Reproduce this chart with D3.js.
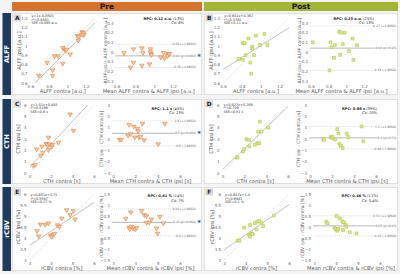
<!DOCTYPE html>
<html><head><meta charset="utf-8">
<script src="https://cdn.jsdelivr.net/npm/d3@7"></script>
<style>body{margin:0;background:#f4f4f4;} svg{display:block;font-family:"DejaVu Sans",sans-serif;}</style>
</head><body><svg id="c" width="400" height="274"></svg>
<script>
// ---------- DATA ----------
const columns = ["Pre", "Post"];
const rowNames = ["ALFF", "CTH", "rCBV"];
const panelLetters = ["A", "B", "C", "D", "E", "F"];

// A: ALFF pre
const alffPreContra = [0.69,0.78,0.84,0.84,0.86,0.90,0.95,0.95,0.97,0.98,0.99,1.03,1.11,1.12,1.12,1.16,1.17,1.18,1.16];
const alffPreIpsi   = [0.68,0.82,0.74,0.68,0.89,0.89,0.81,0.98,0.96,0.95,0.96,0.91,1.11,1.10,1.06,1.15,1.14,1.12,1.12];
const alffPreMean   = [0.68,0.78,0.78,0.75,0.87,0.88,0.87,0.96,0.96,0.97,0.97,0.95,1.07,1.10,1.11,1.15,1.15,1.14,1.16];
const alffPreDiff   = [-0.01,0.03,-0.11,-0.16,0.04,-0.01,-0.14,0.03,0.00,-0.02,-0.03,-0.125,-0.055,-0.007,-0.065,-0.02,-0.03,-0.04,-0.02];
// B: ALFF post
const alffPostContra = [0.77,0.81,0.81,0.83,0.84,0.87,0.89,0.90,0.91,0.91,0.93,0.95,0.99,1.04,1.07];
const alffPostIpsi   = [0.86,0.85,1.03,1.03,0.90,1.08,0.82,0.70,0.99,0.97,0.90,1.11,1.01,1.13,1.01];
const alffPostMean   = [0.62,0.82,0.83,0.87,0.86,0.81,0.92,0.94,0.98,0.96,0.93,1.07,1.03,1.08,1.12];
const alffPostDiff   = [0.10,0.10,0.05,0.07,-0.06,-0.19,0.21,0.20,0.20,0.08,-0.03,0.14,0.01,-0.08,0.07];
// C: CTH pre
const cthPreContra = [0.37,0.53,0.68,1.05,1.15,1.24,1.55,1.67,1.76,1.76,1.86,2.07,2.14,2.69,3.78,4.09];
const cthPreIpsi   = [0.64,0.73,2.10,1.55,2.34,1.81,2.57,2.49,3.13,2.05,2.54,2.34,2.49,2.69,5.18,3.74];
const cthPreMean   = [0.60,0.75,1.44,1.35,1.59,1.86,1.95,2.19,2.25,2.34,2.46,2.64,2.79,4.05,4.65];
const cthPreDiff   = [-0.06,-0.06,1.26,0.30,0.45,1.11,0.15,0.90,0.69,0.15,0.21,1.35,-0.09,-0.45,1.35];
// D: CTH post
const cthPostContra = [1.28,1.37,1.89,1.98,2.20,2.44,2.44,2.96,3.26,3.20,3.35,3.41,3.57,4.18];
const cthPostIpsi   = [1.37,1.37,1.90,2.10,2.98,2.92,2.34,2.49,3.65,2.63,2.63,4.53,3.65,4.00];
const cthPostMean   = [1.21,1.27,1.88,1.97,2.06,2.27,2.48,2.58,2.67,2.82,2.97,3.33,3.48,4.70,4.85];
const cthPostDiff   = [0.00,-0.10,0.17,0.10,0.20,-0.05,0.87,0.50,-0.44,-0.60,-0.81,0.47,0.17,1.11,-0.20];
// E: rCBV pre
const rcbvPreContra = [3.35,3.42,3.50,3.73,3.88,3.98,4.04,4.11,4.16,4.30,4.39,4.50,4.73,4.89,5.04,5.12];
const rcbvPreIpsi   = [4.32,4.08,4.62,4.60,4.67,4.12,4.06,4.15,4.20,4.59,4.52,4.89,5.27,5.05,5.23,4.85];
const rcbvPreMean   = [3.57,3.80,3.72,3.75,3.82,3.90,4.00,4.05,4.27,4.40,4.50,4.50,4.62,4.72,4.95,5.00,5.10,5.25];
const rcbvPreDiff   = [0.38,0.67,-0.02,-0.10,0.02,-0.06,-0.10,-0.03,0.74,0.55,0.50,0.20,0.20,0.35,-0.06,-0.29,0.47,0.17];
// F: rCBV post
const rcbvPostContra = [3.63,3.70,3.93,4.16,4.20,4.27,4.32,4.20,4.42,4.50,4.53,4.62,4.73,4.81,5.30];
const rcbvPostIpsi   = [3.88,3.88,4.47,4.14,4.06,4.21,4.17,4.59,4.67,4.39,4.74,4.77,4.70,4.55,5.02];
const rcbvPostMean   = [3.56,3.61,4.02,3.94,3.99,4.05,4.10,4.17,4.29,4.35,4.43,4.48,4.32,4.63,4.93];
const rcbvPostDiff   = [0.24,0.17,0.50,-0.03,-0.10,-0.17,-0.09,0.39,0.24,0.21,0.09,0.02,-0.14,-0.24,-0.29];

// regression fits (slope, intercept) as printed in the panels
const fitSlope = [1, 0.641, 1.02, 0.927, 0.651, 0.687];
const fitIntercept = [-0.0503, 0.362, 0.483, 0.299, 1.71, 1.4];
const fitText = [
  ["y=1x-0.0503","r²=0.8581","SEE=0.065 a.u."],
  ["y=0.641x+0.362","r²=0.3762","SEE=0.11 a.u."],
  ["y=1.02x+0.483","r²=0.8169","SEE=0.6 s"],
  ["y=0.927x+0.299","r²=0.709","SEE=0.51 s"],
  ["y=0.651x+1.71","r²=0.5587","SEE=0.27 %"],
  ["y=0.687x+1.4","r²=0.6941","SEE=0.2 %"]
];
// Bland-Altman lines: mean bias, upper, lower
const baBias  = [-0.04, 0.04, 0.5, 0.1, 0.21, 0.05];
const baUpper = [0.08, 0.27, 1.6, 1.1, 0.82, 0.51];
const baLower = [-0.16, -0.19, -0.6, -0.88, -0.4, -0.41];
const baBiasLabel  = ["-0.04 (p=0.002)","0.04 (p=0.25)","0.5 (p=0.002)","0.1 (p=0.53)","0.21 (p=0.002)","0.05 (p=0.43)"];
const baUpperLabel = ["0.08 (+1.96SD)","0.27 (+1.96SD)","1.6 (+1.96SD)","1.1 (+1.96SD)","0.82 (+1.96SD)","0.51 (+1.96SD)"];
const baLowerLabel = ["-0.16 (-1.96SD)","-0.19 (-1.96SD)","-0.6 (-1.96SD)","-0.88 (-1.96SD)","-0.4 (-1.96SD)","-0.41 (-1.96SD)"];
const rpcBold = ["RPC: 0.12 a.u.","RPC: 0.23 a.u.","RPC: 1.1 s","RPC: 0.98 s","RPC: 0.61 %","RPC: 0.46 %"];
const rpcPct  = [" (13%)"," (25%)"," (40%)"," (39%)"," (14%)"," (11%)"];
const cvText  = ["CV: 6%","CV: 13%","CV: 23%","CV: 20%","CV: 7%","CV: 5.4%"];
const significant = [true,false,true,false,true,false];

// axis ticks
const alffTicksX = [0.6,0.8,1,1.2];
const alffTicksY = [0.6,0.7,0.8,0.9,1,1.1,1.2,1.3];
const alffBATicksY = [-0.3,-0.2,-0.1,0,0.1,0.2,0.3];
const cthTicks = [0,2,4,6];
const cthTicksY = [0,1,2,3,4,5,6];
const cthBATicksY = [-3,-2,-1,0,1,2,3];
const rcbvTicksX = [3,4,5,6];
const rcbvTicksY = [3,3.5,4,4.5,5,5.5,6];
const rcbvBATicksY = [-1.5,-1,-0.5,0,0.5,1,1.5];

const xLabels = ["ALFF contra [a.u.]","CTH contra [s]","rCBV contra [%]"];
const yLabels = ["ALFF ipsi [a.u.]","CTH ipsi [s]","rCBV ipsi [%]"];
const baXLabels = ["Mean ALFF contra & ALFF ipsi [a.u.]","Mean CTH contra & CTH ipsi [s]","Mean rCBV contra & rCBV ipsi [%]"];
const baYLabels = ["ALFF ipsi - ALFF contra [a.u.]","CTH ipsi - CTH contra [s]","rCBV ipsi - rCBV contra [%]"];

// ---------- DRAW ----------
const svg = d3.select("#c");
const FONT = "DejaVu Sans";
const navy = "#1f3a5f", orange = "#d4742f", olive = "#a2b536";
const colStyle = [
  {stroke:"#e3864a", fill:"#f6c9a4", sym:"tri"},
  {stroke:"#b4c545", fill:"#dfe79b", sym:"sq"}
];
const rowBands = [[13,95],[99,184],[187,271]];
const plotY = [[83,18],[173,105],[260,194]];
const baPlotY = [[81,23],[173,105],[260,194]];
const statY = [15.8, 104.5, 195];
const rpcY = [19.6, 109.5, 197.3];
const colX = [12, 204];
const colW = [190, 194];

// headers
columns.forEach((c,i)=>{
  svg.append("rect").attr("x",colX[i]).attr("y",2).attr("width",colW[i]).attr("height",9)
    .attr("fill", i===0?orange:olive);
  svg.append("text").attr("x",colX[i]+colW[i]/2).attr("y",9.3).attr("text-anchor","middle")
    .attr("font-family",FONT).attr("font-weight","bold").attr("font-size",7.5).attr("fill","#111").text(c);
});
// row bands
rowNames.forEach((r,i)=>{
  const [t,b]=rowBands[i];
  svg.append("rect").attr("x",2.5).attr("y",t).attr("width",8.5).attr("height",b-t).attr("fill",navy);
  svg.append("text").attr("transform",`translate(9.3,${(t+b)/2}) rotate(-90)`).attr("text-anchor","middle")
    .attr("font-family",FONT).attr("font-weight","bold").attr("font-size",6.5).attr("fill","#fff").text(r);
  columns.forEach((c,j)=>{
    svg.append("rect").attr("x",colX[j]+0.3).attr("y",t+0.3).attr("width",colW[j]-0.6).attr("height",b-t-0.6)
      .attr("fill","#fff").attr("stroke","#cfcfcf").attr("stroke-width",0.6);
  });
});

let clipN=0;
function makeClip(xr,yr){
  const id="cp"+(clipN++);
  svg.append("clipPath").attr("id",id).append("rect").attr("x",xr[0]).attr("y",yr[1]).attr("width",xr[1]-xr[0]).attr("height",yr[0]-yr[1]);
  return id;
}
function styleAxis(s){
  s.select(".domain").remove();
  s.attr("font-family",FONT).attr("font-size",4);
  s.selectAll("text").attr("fill","#666");
}
function marker(g, pts, x, y, st){
  const sym = st.sym==="tri" ? d3.symbol(d3.symbolTriangle).size(9) : d3.symbol(d3.symbolSquare).size(8);
  g.selectAll(null).data(pts).join("path")
    .attr("d", sym)
    .attr("transform", d=>`translate(${x(d[0])},${y(d[1])})${st.sym==="tri"?" rotate(180)":""}`)
    .attr("fill", st.fill).attr("stroke", st.stroke).attr("stroke-width",0.6);
}
function fmt(v){ return d3.format("~g")(v); }

function scatter(idx, row, col, xs, ys, xDom, xR, yDom, xT, yT){
  const yR = plotY[row];
  const x=d3.scaleLinear().domain(xDom).range(xR);
  const y=d3.scaleLinear().domain(yDom).range(yR);
  const g=svg.append("g");
  g.append("g").attr("transform",`translate(0,${yR[0]})`)
    .call(d3.axisBottom(x).tickValues(xT).tickSize(0).tickPadding(2).tickFormat(fmt)).call(styleAxis);
  g.append("g").attr("transform",`translate(${xR[0]},0)`)
    .call(d3.axisLeft(y).tickValues(yT).tickSize(0).tickPadding(3).tickFormat(fmt)).call(styleAxis);
  const cid=makeClip(xR,yR);
  const lg=g.append("g").attr("clip-path",`url(#${cid})`);
  const lo=Math.max(xDom[0],yDom[0]), hi=Math.min(xDom[1],yDom[1]);
  lg.append("line").attr("x1",x(lo)).attr("y1",y(lo)).attr("x2",x(hi)).attr("y2",y(hi))
    .attr("stroke","#c8c8c8").attr("stroke-width",0.6).attr("stroke-dasharray","1,1");
  const m=fitSlope[idx], b=fitIntercept[idx];
  lg.append("line").attr("x1",x(xDom[0])).attr("y1",y(m*xDom[0]+b)).attr("x2",x(xDom[1])).attr("y2",y(m*xDom[1]+b))
    .attr("stroke","#a8a8a8").attr("stroke-width",0.7);
  marker(g, xs.map((v,i)=>[v,ys[i]]), x, y, colStyle[col]);
  fitText[idx].forEach((t,i)=>{
    g.append("text").attr("x",xR[0]+1).attr("y",statY[row]+1.2+i*3.5).attr("font-family",FONT)
      .attr("font-size",3.4).attr("fill","#333").text(t);
  });
  g.append("text").attr("x",(xR[0]+xR[1])/2).attr("y",yR[0]+10).attr("text-anchor","middle")
    .attr("font-family",FONT).attr("font-size",5.2).attr("fill","#555").text(xLabels[row]);
  g.append("text").attr("transform",`translate(${xR[0]-10},${(yR[0]+yR[1])/2}) rotate(-90)`).attr("text-anchor","middle")
    .attr("font-family",FONT).attr("font-size",5.2).attr("fill","#555").text(yLabels[row]);
}

function ba(idx,row,col,ms,ds,xDom,xR,yDom,xT,yT,axisEnd,lineEnd){
  const yR = baPlotY[row];
  const x=d3.scaleLinear().domain(xDom).range(xR);
  const y=d3.scaleLinear().domain(yDom).range(yR);
  const g=svg.append("g");
  g.append("g").attr("transform",`translate(0,${plotY[row][0]})`)
    .call(d3.axisBottom(x).tickValues(xT).tickSize(0).tickPadding(2).tickFormat(fmt)).call(styleAxis);
  g.append("g").attr("transform",`translate(${xR[0]},0)`)
    .call(d3.axisLeft(y).tickValues(yT).tickSize(0).tickPadding(3).tickFormat(fmt)).call(styleAxis);
  const x0=xR[0]-1;
  [[baUpper[idx],baUpperLabel[idx],true],[baBias[idx],baBiasLabel[idx],false],[baLower[idx],baLowerLabel[idx],true]].forEach(([v,lab,dash])=>{
    g.append("line").attr("x1",x0).attr("x2",lineEnd-1).attr("y1",y(v)).attr("y2",y(v))
      .attr("stroke",dash?"#c4c4c4":"#9a9a9a").attr("stroke-width",dash?0.5:0.7)
      .attr("stroke-dasharray",dash?"1.2,0.8":null);
    g.append("text").attr("x",lineEnd).attr("y",y(v)+1).attr("text-anchor","end")
      .attr("font-family",FONT).attr("font-size",3).attr("fill","#666")
      .attr("stroke","#fff").attr("stroke-width",1.2).attr("paint-order","stroke").text(lab);
  });
  marker(g, ms.map((v,i)=>[v,ds[i]]), x, y, colStyle[col]);
  const t=g.append("text").attr("x",axisEnd).attr("y",rpcY[row]).attr("text-anchor","end")
    .attr("font-family",FONT).attr("font-size",3.6).attr("fill","#222");
  t.append("tspan").attr("font-weight","bold").text(rpcBold[idx]);
  t.append("tspan").text(rpcPct[idx]);
  g.append("text").attr("x",axisEnd).attr("y",rpcY[row]+4.2).attr("text-anchor","end")
    .attr("font-family",FONT).attr("font-size",3.6).attr("fill","#222").text(cvText[idx]);
  g.append("text").attr("x",(xR[0]+xR[1])/2+4).attr("y",plotY[row][0]+10).attr("text-anchor","middle")
    .attr("font-family",FONT).attr("font-size",5.2).attr("fill","#555").text(baXLabels[row]);
  g.append("text").attr("transform",`translate(${xR[0]-10},${(plotY[row][0]+plotY[row][1])/2}) rotate(-90)`).attr("text-anchor","middle")
    .attr("font-family",FONT).attr("font-size",4.6).attr("fill","#555").text(baYLabels[row]);
  if(significant[idx]){
    svg.append("text").attr("x",lineEnd+3).attr("y",y(baBias[idx])+3).attr("text-anchor","middle")
      .attr("font-family",FONT).attr("font-weight","bold").attr("font-size",7).attr("fill","#2d4f8e").text("*");
  }
}

// letters
panelLetters.forEach((L,i)=>{
  const row=Math.floor(i/2), col=i%2;
  const x=colX[col]+1.5, yy=rowBands[row][0]+1.5;
  svg.append("rect").attr("x",x).attr("y",yy).attr("width",7.5).attr("height",7).attr("fill","#d8d8d8");
  svg.append("text").attr("x",x+3.75).attr("y",yy+5.6).attr("text-anchor","middle").attr("font-family",FONT)
    .attr("font-weight","bold").attr("font-size",5.8).attr("fill","#222").text(L);
});

// Row ALFF
scatter(0,0,0,alffPreContra,alffPreIpsi,[0.6,1.3],[30.5,95],[0.6,1.3],alffTicksX,alffTicksY);
ba(0,0,0,alffPreMean,alffPreDiff,[0.6,1.2],[116.5,173],[-0.3,0.3],alffTicksX,alffBATicksY,184,196);
scatter(1,0,1,alffPostContra,alffPostIpsi,[0.6,1.3],[223,289],[0.6,1.3],alffTicksX,alffTicksY);
ba(1,0,1,alffPostMean,alffPostDiff,[0.6,1.2],[311,364],[-0.3,0.3],alffTicksX,alffBATicksY,374,396.5);
// Row CTH
scatter(2,1,0,cthPreContra,cthPreIpsi,[0,6],[29.5,94],[0,6],cthTicks,cthTicksY);
ba(2,1,0,cthPreMean,cthPreDiff,[0,6],[113,180],[-3,3],cthTicks,cthBATicksY,184,196);
scatter(3,1,1,cthPostContra,cthPostIpsi,[0,6],[222.5,288],[0,6],cthTicks,cthTicksY);
ba(3,1,1,cthPostMean,cthPostDiff,[0,6],[310,376],[-3,3],cthTicks,cthBATicksY,377,396.5);
// Row rCBV
scatter(4,2,0,rcbvPreContra,rcbvPreIpsi,[3,6],[29.5,94],[3,6],rcbvTicksX,rcbvTicksY);
ba(4,2,0,rcbvPreMean,rcbvPreDiff,[3,6],[113,180],[-1.5,1.5],rcbvTicksX,rcbvBATicksY,184,196);
scatter(5,2,1,rcbvPostContra,rcbvPostIpsi,[3,6],[224,289],[3,6],rcbvTicksX,rcbvTicksY);
ba(5,2,1,rcbvPostMean,rcbvPostDiff,[3,6],[314,380],[-1.5,1.5],rcbvTicksX,rcbvBATicksY,378,396.5);
</script></body></html>
